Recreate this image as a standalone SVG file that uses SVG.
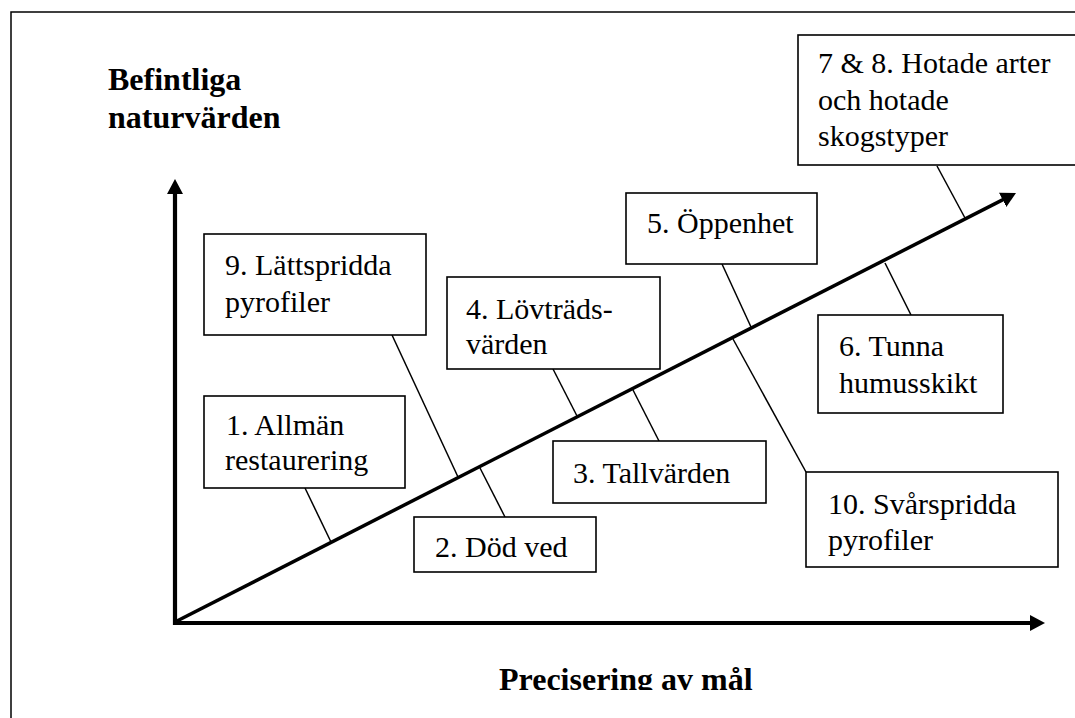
<svg xmlns="http://www.w3.org/2000/svg" width="1075" height="718" viewBox="0 0 1075 718">
<style>
.frame{fill:none;stroke:#000;stroke-width:1.5}
.box{fill:#fff;stroke:#000;stroke-width:1.6}
.lbl{font-family:"Liberation Serif","Times New Roman",serif;font-size:30px;fill:#000}
.title{font-family:"Liberation Serif","Times New Roman",serif;font-size:32px;font-weight:bold;fill:#000}
.axis{stroke:#000;stroke-width:4.2;fill:none}
.diag{stroke:#000;stroke-width:3.5;fill:none}
.conn{stroke:#000;stroke-width:1.5;fill:none}
</style>
<defs>
<marker id="ah" viewBox="0 0 15 16" refX="7" refY="8" markerWidth="15" markerHeight="16" markerUnits="userSpaceOnUse" orient="auto">
<path d="M0,0 L15,8 L0,16 z" fill="#000"/>
</marker>
<clipPath id="cut"><rect x="0" y="0" width="1075" height="690"/></clipPath>
</defs>
<rect width="1075" height="718" fill="#fff"/>
<rect class="frame" x="11" y="12" width="1100" height="800"/>
<g id="title-y"><text class="title" x="108" y="90">Befintliga</text><text class="title" x="108" y="128">naturvärden</text></g>
<g id="title-x" clip-path="url(#cut)"><text class="title" x="499" y="690">Precisering av mål</text></g>
<g id="connectors">
<line class="axis" x1="175" y1="625" x2="175" y2="187" marker-end="url(#ah)"/>
<line class="axis" x1="173" y1="623" x2="1037" y2="623" marker-end="url(#ah)"/>
<line class="diag" x1="175" y1="622" x2="1008.9" y2="196.6" marker-end="url(#ah)"/>
<line class="conn" x1="305" y1="488" x2="331" y2="542"/>
<line class="conn" x1="480" y1="468" x2="505" y2="517"/>
<line class="conn" x1="392" y1="335" x2="458" y2="477"/>
<line class="conn" x1="553" y1="369" x2="577" y2="416"/>
<line class="conn" x1="633" y1="390" x2="659" y2="441"/>
<line class="conn" x1="722" y1="264" x2="751" y2="327"/>
<line class="conn" x1="733" y1="339" x2="806" y2="472"/>
<line class="conn" x1="885" y1="263" x2="911" y2="315"/>
<line class="conn" x1="937" y1="166" x2="965" y2="218"/>
</g>
<g id="n1"><rect class="box" x="204" y="396" width="201" height="92"/><text class="lbl" x="226" y="435">1. Allmän</text><text class="lbl" x="225" y="470">restaurering</text></g>
<g id="n2"><rect class="box" x="414" y="517" width="182" height="55"/><text class="lbl" x="435" y="557">2. Död ved</text></g>
<g id="n3"><rect class="box" x="553" y="441" width="213" height="62"/><text class="lbl" x="573" y="483">3. Tallvärden</text></g>
<g id="n4"><rect class="box" x="447" y="277" width="213" height="92"/><text class="lbl" x="466" y="319">4. Lövträds-</text><text class="lbl" x="466" y="354">värden</text></g>
<g id="n5"><rect class="box" x="626" y="193" width="191" height="71"/><text class="lbl" x="647" y="233">5. Öppenhet</text></g>
<g id="n6"><rect class="box" x="818" y="315" width="185" height="98"/><text class="lbl" x="839" y="356">6. Tunna</text><text class="lbl" x="839" y="393">humusskikt</text></g>
<g id="n7"><rect class="box" x="798" y="35" width="300" height="130"/><text class="lbl" x="818" y="73">7 &amp; 8. Hotade arter</text><text class="lbl" x="818" y="110">och hotade</text><text class="lbl" x="818" y="146">skogstyper</text></g>
<g id="n9"><rect class="box" x="204" y="234" width="222" height="101"/><text class="lbl" x="225" y="275">9. Lättspridda</text><text class="lbl" x="225" y="312">pyrofiler</text></g>
<g id="n10"><rect class="box" x="806" y="472" width="252" height="95"/><text class="lbl" x="828" y="514">10. Svårspridda</text><text class="lbl" x="828" y="550">pyrofiler</text></g>
</svg>
